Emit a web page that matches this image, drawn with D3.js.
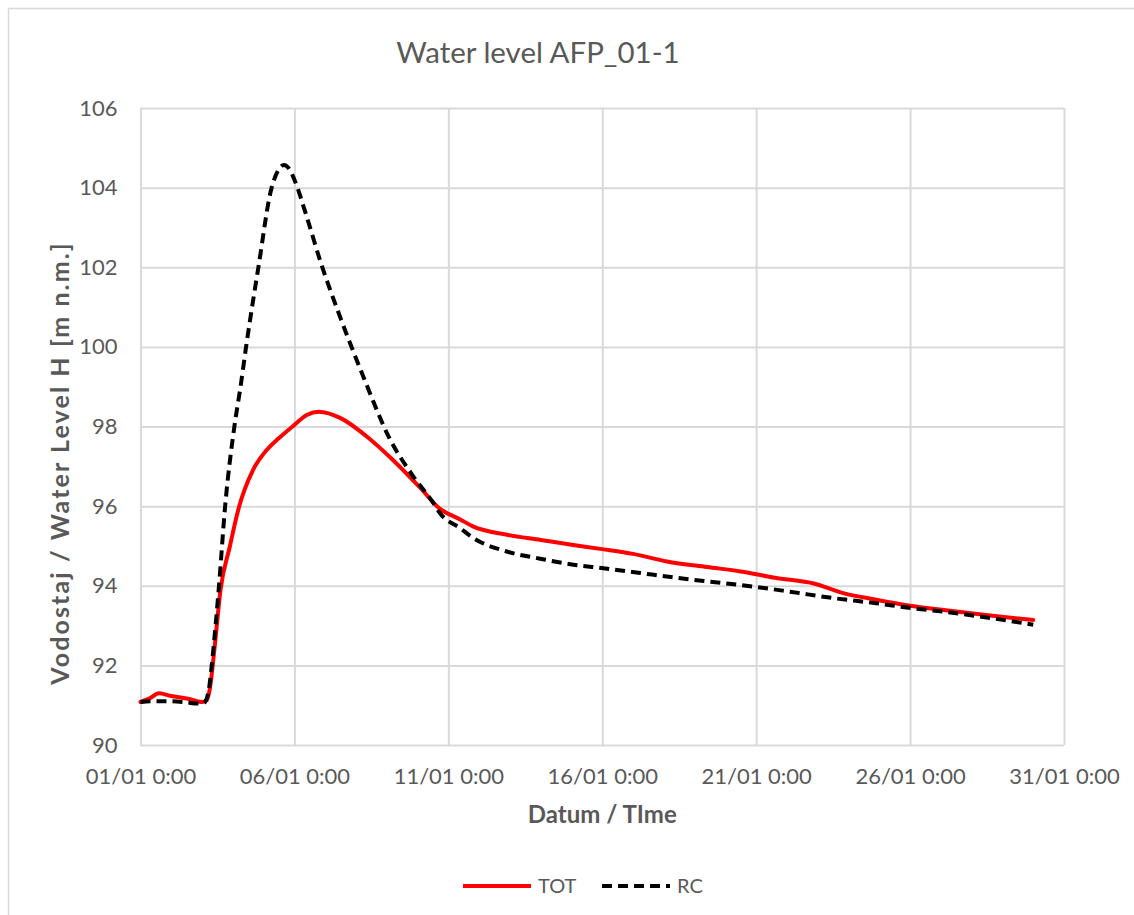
<!DOCTYPE html>
<html>
<head>
<meta charset="utf-8">
<script src="https://cdn.jsdelivr.net/npm/d3@7"></script>
<style>
  body { margin: 0; background: #fff; }
  text { font-family: Lato, "Open Sans", sans-serif; fill: #595959; }
</style>
</head>
<body>
<div id="chart-area"></div>
<script>
// values (x in days since 01/01 0:00)
var totDays   = [0, 0.3, 0.6, 1.0, 1.5, 2.0, 2.15, 2.25, 2.4, 2.6, 2.9, 3.2, 3.65, 4.1, 4.5, 5.0, 5.4, 5.8, 6.5, 7.35, 8.2, 9.1, 9.7, 10.4, 10.8, 11.9, 13.0, 14.0, 15.0, 16.0, 17.1, 18.4, 19.5, 20.6, 21.9, 22.8, 23.9, 25.0, 26.3, 27.6, 29.0];
var totLevels = [91.08, 91.17, 91.30, 91.23, 91.17, 91.08, 91.12, 91.4, 92.4, 93.9, 94.98, 95.98, 96.9, 97.41, 97.71, 98.04, 98.29, 98.37, 98.21, 97.75, 97.16, 96.45, 95.95, 95.66, 95.49, 95.28, 95.15, 95.03, 94.92, 94.8, 94.61, 94.47, 94.36, 94.2, 94.05, 93.82, 93.65, 93.5, 93.37, 93.25, 93.14];

var rcDays   = [0, 0.5, 1.0, 1.5, 1.85, 2.05, 2.2, 2.31, 2.45, 2.55, 2.75, 3.05, 3.25, 3.43, 3.83, 4.26, 4.45, 4.66, 4.85, 5.0, 5.4, 5.83, 6.48, 7.24, 8.11, 8.86, 9.51, 9.73, 10.38, 10.81, 11.9, 12.98, 14.06, 15.04, 16.23, 17.31, 18.4, 19.9, 21.1, 22.5, 23.9, 25.03, 26.3, 27.6, 29.0];
var rcLevels = [91.08, 91.1, 91.1, 91.07, 91.04, 91.05, 91.3, 91.97, 93.1, 94.0, 96.0, 98.0, 99.0, 100.0, 102.0, 104.0, 104.4, 104.57, 104.45, 104.2, 103.27, 102.18, 100.76, 99.25, 97.67, 96.75, 96.08, 95.82, 95.45, 95.2, 94.86, 94.68, 94.53, 94.44, 94.32, 94.21, 94.11, 93.98, 93.85, 93.69, 93.56, 93.44, 93.33, 93.19, 93.02];

var xTickDays   = [0, 5, 10, 15, 20, 25, 30];
var xTickLabels = ["01/01 0:00", "06/01 0:00", "11/01 0:00", "16/01 0:00", "21/01 0:00", "26/01 0:00", "31/01 0:00"];
var yTicks      = [90, 92, 94, 96, 98, 100, 102, 104, 106];

var seriesNames = ["TOT", "RC"];

var W = 1134, H = 915;
var plotL = 140.5, plotR = 1064, plotT = 108, plotB = 745;

var svg = d3.select("#chart-area")
	.append("svg")
		.attr("width", W)
		.attr("height", H);

// chart frame (runs off the page right and bottom)
svg.append("rect")
	.attr("x", 8.5).attr("y", 8.5)
	.attr("width", W).attr("height", H)
	.attr("fill", "#fff")
	.attr("stroke", "#d9d9d9")
	.attr("stroke-width", 1.5);

var x = d3.scaleLinear().domain([0, 30]).range([plotL, plotR]);
var y = d3.scaleLinear().domain([90, 106]).range([plotB, plotT]);

// grid
svg.append("g")
	.attr("transform", "translate(0," + plotB + ")")
	.call(d3.axisBottom(x).tickValues(xTickDays).tickSize(-(plotB - plotT)).tickFormat(""))
	.call(function(g){ g.select(".domain").remove(); })
	.selectAll("line").attr("stroke", "#d9d9d9").attr("stroke-width", 2);

svg.append("g")
	.attr("transform", "translate(" + plotL + ",0)")
	.call(d3.axisLeft(y).tickValues(yTicks).tickSize(-(plotR - plotL)).tickFormat(""))
	.call(function(g){ g.select(".domain").remove(); })
	.selectAll("line").attr("stroke", "#d9d9d9").attr("stroke-width", 2);

// tick labels
var xAxis = svg.append("g")
	.attr("transform", "translate(0," + plotB + ")")
	.call(d3.axisBottom(x).tickValues(xTickDays).tickSize(0).tickPadding(23)
		.tickFormat(function(d, i){ return xTickLabels[i]; }));
xAxis.select(".domain").remove();
xAxis.selectAll("text").attr("font-size", "22px").attr("font-family", "Lato").attr("fill", "#595959");

var yAxis = svg.append("g")
	.attr("transform", "translate(" + plotL + ",0)")
	.call(d3.axisLeft(y).tickValues(yTicks).tickSize(0).tickPadding(23));
yAxis.select(".domain").remove();
yAxis.selectAll("text").attr("font-size", "22px").attr("font-family", "Lato").attr("fill", "#595959");

// lines
var totData = totDays.map(function(d, i){ return [d, totLevels[i]]; });
var rcData  = rcDays.map(function(d, i){ return [d, rcLevels[i]]; });

var line = d3.line()
	.x(function(d){ return x(d[0]); })
	.y(function(d){ return y(d[1]); })
	.curve(d3.curveMonotoneX);

svg.append("path")
	.datum(totData)
	.attr("d", line)
	.attr("fill", "none")
	.attr("stroke", "#ff0000")
	.attr("stroke-width", 4)
	.attr("stroke-linejoin", "round")
	.attr("stroke-linecap", "round");

svg.append("path")
	.datum(rcData)
	.attr("d", line)
	.attr("fill", "none")
	.attr("stroke", "#000")
	.attr("stroke-width", 4)
	.attr("stroke-dasharray", "10,6");

// titles
svg.append("text")
	.attr("x", 538).attr("y", 63)
	.attr("text-anchor", "middle")
	.attr("font-size", "29.5px")
	.text("Water level AFP_01-1");

svg.append("text")
	.attr("x", (plotL + plotR) / 2).attr("y", 823)
	.attr("text-anchor", "middle")
	.attr("font-size", "24px")
	.attr("font-weight", "bold")
	.text("Datum / TIme");

svg.append("text")
	.attr("transform", "translate(69,463) rotate(-90)")
	.attr("text-anchor", "middle")
	.attr("font-size", "25px")
	.attr("letter-spacing", "2.1px")
	.attr("font-weight", "bold")
	.text("Vodostaj / Water Level H [m n.m.]");

// legend
var legend = svg.append("g");
var legendX = [463, 602];
seriesNames.forEach(function(name, i){
	legend.append("line")
		.attr("x1", legendX[i]).attr("x2", legendX[i] + 68)
		.attr("y1", 886).attr("y2", 886)
		.attr("stroke", i == 0 ? "#ff0000" : "#000")
		.attr("stroke-width", 4)
		.attr("stroke-dasharray", i == 0 ? null : "10,6");
	legend.append("text")
		.attr("x", legendX[i] + 75).attr("y", 893)
		.attr("font-size", "20px")
		.text(name);
});
</script>
</body>
</html>
